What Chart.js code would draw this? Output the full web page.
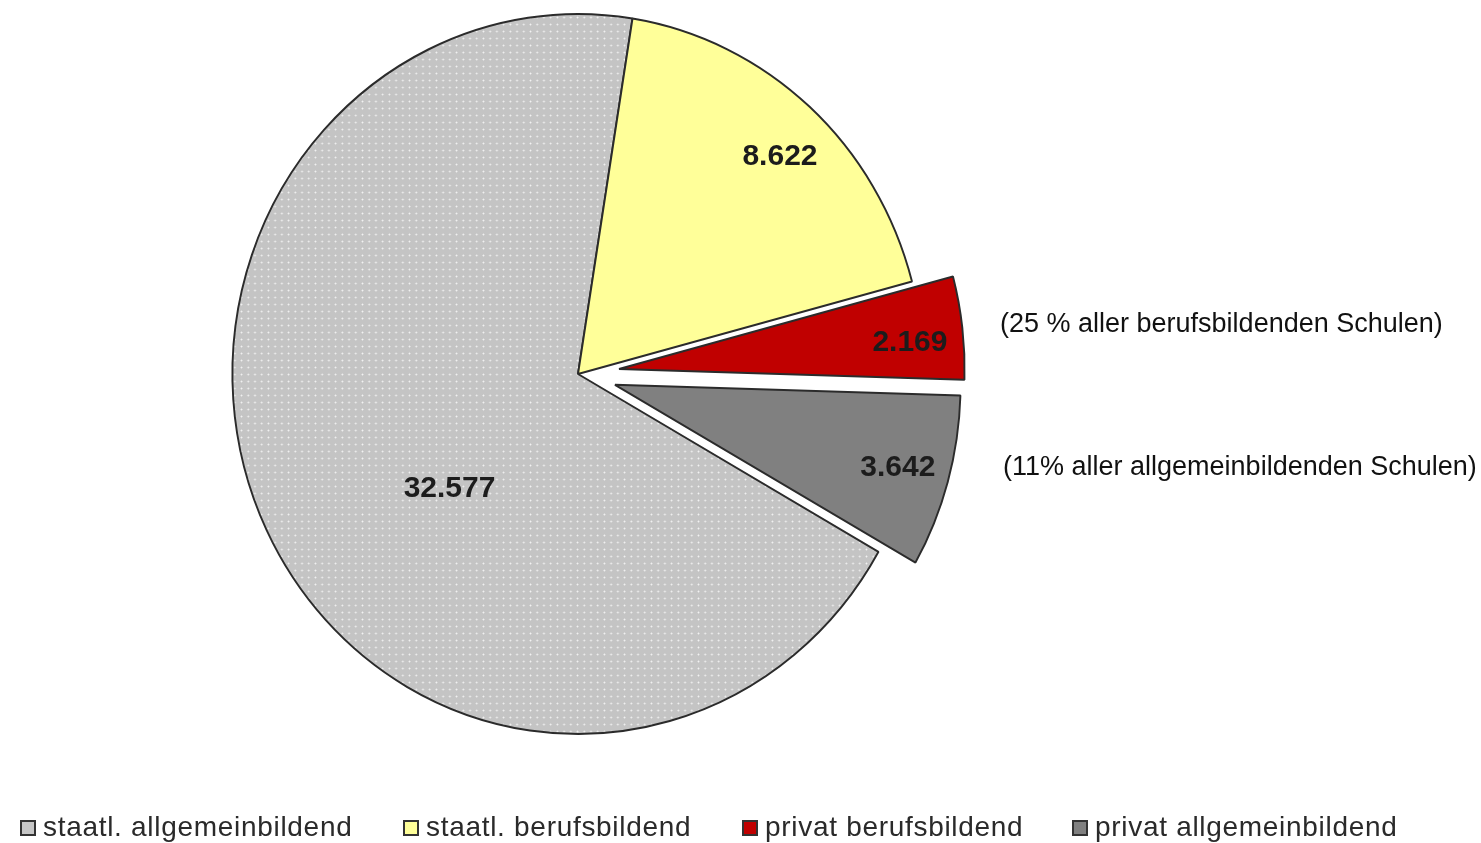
<!DOCTYPE html>
<html><head><meta charset="utf-8">
<script src="https://cdn.jsdelivr.net/npm/chart.js@4.4.0/dist/chart.umd.min.js"></script>
<style>html,body{margin:0;padding:0;background:#fff;overflow:hidden}canvas{display:block}</style>
</head><body>
<canvas id="c" width="1481" height="843"></canvas>
<script>
// ---- data ----
const categories = ['staatl. allgemeinbildend', 'staatl. berufsbildend', 'privat berufsbildend', 'privat allgemeinbildend'];
const values = [32577, 8622, 2169, 3642];
const notes = ['(25 % aller berufsbildenden Schulen)', '(11% aller allgemeinbildenden Schulen)'];

// ---- styles ----
const fillColors = ['#c6c6c6', '#ffff99', '#c00000', '#808080'];
const explode = [0, 0, 43, 40];           // px the slice is pulled out
const labelRadiusFrac = [0.49, 0.84, 0.845, 0.85];
const labelAngleShift = [-15, 2, 1.6, 0];
const xScale = 0.96;

function fmt(v) { return String(v).replace(/\B(?=(\d{3})+(?!\d))/g, '.'); }

function makePattern() {
  const p = document.createElement('canvas');
  p.width = 7; p.height = 7;
  const g = p.getContext('2d');
  g.fillStyle = '#c4c4c4'; g.fillRect(0, 0, 7, 7);
  g.fillStyle = '#d8d8d8'; g.fillRect(2, 3, 3, 1); g.fillRect(3, 2, 1, 3);
  g.fillStyle = '#f2f2f2'; g.fillRect(3, 3, 1, 1);
  return document.getElementById('c').getContext('2d').createPattern(p, 'repeat');
}
const bgColors = fillColors.slice();
bgColors[0] = makePattern();

let center = { x: 0, y: 0 };

const ellipsePlugin = {
  id: 'ellipse',
  afterUpdate(chart) {
    const meta = chart.getDatasetMeta(0);
    center = { x: meta.data[0].x, y: meta.data[0].y };
    meta.data.forEach((arc, i) => {
      const mid = (arc.startAngle + arc.endAngle) / 2;
      arc.x = center.x + Math.cos(mid) * explode[i];
      arc.y = center.y + Math.sin(mid) * explode[i];
    });
  },
  beforeDatasetsDraw(chart) {
    const ctx = chart.ctx;
    ctx.save();
    ctx.translate(center.x, center.y);
    ctx.scale(xScale, 1);
    ctx.translate(-center.x, -center.y);
  },
  afterDatasetsDraw(chart) {
    chart.ctx.restore();
    const ctx = chart.ctx;
    const meta = chart.getDatasetMeta(0);
    // value labels
    ctx.save();
    ctx.font = 'bold 30px "Liberation Sans", Arial, sans-serif';
    ctx.fillStyle = '#1c1c1c';
    ctx.textAlign = 'center';
    ctx.textBaseline = 'middle';
    meta.data.forEach((arc, i) => {
      const mid = (arc.startAngle + arc.endAngle) / 2;
      const ang = mid + labelAngleShift[i] * Math.PI / 180;
      const r = arc.outerRadius * labelRadiusFrac[i];
      const px = arc.x + Math.cos(ang) * r;
      const py = arc.y + Math.sin(ang) * r;
      ctx.fillText(fmt(values[i]), center.x + (px - center.x) * xScale, py);
    });
    ctx.restore();
    // side notes next to the exploded slices
    ctx.save();
    ctx.font = '27px "Liberation Sans", Arial, sans-serif';
    ctx.fillStyle = '#111';
    ctx.textBaseline = 'middle';
    ctx.textAlign = 'left';
    ctx.fillText(notes[0], 1000, 325);
    ctx.fillText(notes[1], 1003, 468);
    ctx.restore();
    // legend
    ctx.save();
    ctx.font = '28px "Liberation Sans", Arial, sans-serif';
    ctx.letterSpacing = '0.7px';
    ctx.textBaseline = 'middle';
    ctx.textAlign = 'left';
    const legendX = [21, 404, 743, 1073];
    const ly = 828;
    categories.forEach((c, i) => {
      const x = legendX[i];
      ctx.fillStyle = fillColors[i];
      ctx.fillRect(x, ly - 7, 14, 14);
      ctx.strokeStyle = '#333';
      ctx.lineWidth = 2;
      ctx.strokeRect(x, ly - 7, 14, 14);
      ctx.fillStyle = '#2a2a2a';
      ctx.fillText(c, x + 22, ly);
    });
    ctx.restore();
  }
};

new Chart(document.getElementById('c'), {
  type: 'pie',
  data: {
    labels: categories,
    datasets: [{
      data: values,
      backgroundColor: bgColors,
      borderColor: '#2b2b2b',
      borderWidth: 2,
      hoverOffset: 0
    }]
  },
  options: {
    responsive: false,
    animation: false,
    rotation: 119.6,
    radius: 360,
    layout: { padding: { left: 0, right: 325, top: 0, bottom: 95 } },
    plugins: { legend: { display: false }, tooltip: { enabled: false } },
    events: []
  },
  plugins: [ellipsePlugin]
});
</script>
</body></html>
